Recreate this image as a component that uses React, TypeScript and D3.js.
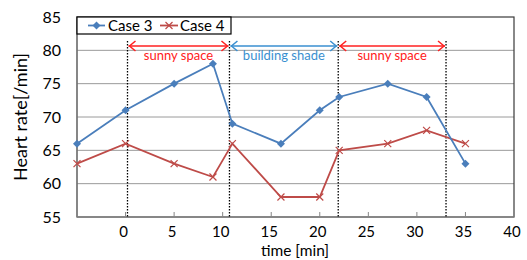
import * as d3 from 'd3';
import React from 'react';

// time [min] and heart rate readings
const times = [-5, 0, 5, 9, 11, 16, 20, 22, 27, 31, 35];
const case3 = [66, 71, 75, 78, 69, 66, 71, 73, 75, 73, 63];
const case4 = [63, 66, 63, 61, 66, 58, 58, 65, 66, 68, 66];

const xTicks = [0, 5, 10, 15, 20, 25, 30, 35, 40];
const yTicks = [55, 60, 65, 70, 75, 80, 85];
const gridValues = [60, 65, 70, 75, 80];

// period boundaries (dotted lines) and labels
const boundaries = [0.2, 10.7, 21.9, 33];
const periods = ['sunny space', 'building shade', 'sunny space'];
const periodColors = ['#ff2020', '#3a8fd0', '#ff2020'];

const BLUE = '#4a7ebb';
const RED = '#be4b48';
const FONT = 'Lato, "Open Sans", sans-serif';

const App = () => {
  const margin = { top: 17, right: 13, bottom: 43, left: 77 },
    width = 527 - margin.left - margin.right,
    height = 260 - margin.top - margin.bottom;

  const x = d3.scaleLinear().domain([-5, 40]).range([0, width]);
  const y = d3.scaleLinear().domain([55, 85]).range([height, 0]);

  const line = d3.line<number>()
    .x((d, i) => x(times[i]))
    .y(d => y(d));

  const arrowY = y(80.65);

  const arrow = (x1: number, x2: number, color: string, key: string) => (
    <g key={key} stroke={color} strokeWidth={1.5} fill="none">
      <line x1={x1} x2={x2} y1={arrowY} y2={arrowY} />
      <polyline points={`${x1 + 7},${arrowY - 5} ${x1 + 1},${arrowY} ${x1 + 7},${arrowY + 5}`} />
      <polyline points={`${x2 - 7},${arrowY - 5} ${x2 - 1},${arrowY} ${x2 - 7},${arrowY + 5}`} />
    </g>
  );

  const diamond = (cx: number, cy: number, i: number) => (
    <path key={i} d={`M${cx},${cy - 4}L${cx + 4},${cy}L${cx},${cy + 4}L${cx - 4},${cy}Z`} fill={BLUE} />
  );
  const cross = (cx: number, cy: number, i: number) => (
    <path key={i} d={`M${cx - 3.5},${cy - 3.5}L${cx + 3.5},${cy + 3.5}M${cx - 3.5},${cy + 3.5}L${cx + 3.5},${cy - 3.5}`}
      stroke={RED} strokeWidth={1.2} />
  );

  return (
    <svg width={527} height={260} style={{ position: 'absolute', left: 0, top: 0, background: '#fff' }}
      fontFamily={FONT}>
      <g transform={`translate(${margin.left},${margin.top})`}>
        {/* grid */}
        {gridValues.map(v => (
          <line key={v} x1={0} x2={width} y1={y(v)} y2={y(v)} stroke="#9a9a9a" strokeWidth={1} />
        ))}
        {/* plot frame */}
        <rect x={0} y={0} width={width} height={height} fill="none" stroke="#3a3a3a" strokeWidth={1.2} />
        <line x1={0} x2={0} y1={0} y2={height} stroke="#868686" strokeWidth={1.2} />
        <line x1={0} x2={width} y1={height} y2={height} stroke="#868686" strokeWidth={1.2} />

        {/* x ticks inside */}
        {xTicks.map(t => (
          <line key={t} x1={x(t)} x2={x(t)} y1={height} y2={height - 5} stroke="#868686" />
        ))}
        {xTicks.map(t => (
          <text key={t} x={x(t) - 2} y={height + 20} textAnchor="middle" fontSize={15} fill="#000">{t}</text>
        ))}
        {yTicks.map(t => (
          <text key={t} x={-16} y={y(t)} dy="0.35em" textAnchor="end" fontSize={16} fill="#000">{t}</text>
        ))}

        {/* dotted boundaries */}
        {boundaries.map(b => (
          <line key={b} x1={x(b)} x2={x(b)} y1={arrowY - 5} y2={height} stroke="#000" strokeWidth={1.3}
            strokeDasharray="1.5,1.5" />
        ))}
        {periods.map((p, i) => arrow(x(boundaries[i]) + 1, x(boundaries[i + 1]) - 1, periodColors[i], 'a' + i))}
        {periods.map((p, i) => (
          <text key={'t' + i} x={(x(boundaries[i]) + x(boundaries[i + 1])) / 2} y={arrowY + 14}
            textAnchor="middle" fontSize={13} fill={periodColors[i]}>{p}</text>
        ))}

        {/* series */}
        <path d={line(case4) || ''} fill="none" stroke={RED} strokeWidth={1.8} />
        {case4.map((v, i) => cross(x(times[i]), y(v), i))}
        <path d={line(case3) || ''} fill="none" stroke={BLUE} strokeWidth={1.8} />
        {case3.map((v, i) => diamond(x(times[i]), y(v), i))}

        {/* legend */}
        <g>
          <rect x={0} y={0} width={154} height={17} fill="#fff" stroke="#000" strokeWidth={1.2} />
          <line x1={11} x2={28} y1={8.5} y2={8.5} stroke={BLUE} strokeWidth={1.8} />
          {diamond(19.5, 8.5, 100)}
          <text x={31} y={14} fontSize={15} fill="#000">Case 3</text>
          <line x1={83} x2={101} y1={8.5} y2={8.5} stroke={RED} strokeWidth={1.8} />
          {cross(92, 8.5, 101)}
          <text x={103} y={14} fontSize={15} fill="#000">Case 4</text>
        </g>
      </g>
      <text x={295} y={255.5} textAnchor="middle" fontSize={15.5} fill="#000">time [min]</text>
      <text transform="translate(27,117) rotate(-90)" textAnchor="middle" fontSize={18} fill="#000">Heart rate[/min]</text>
    </svg>
  );
};

export default App;
